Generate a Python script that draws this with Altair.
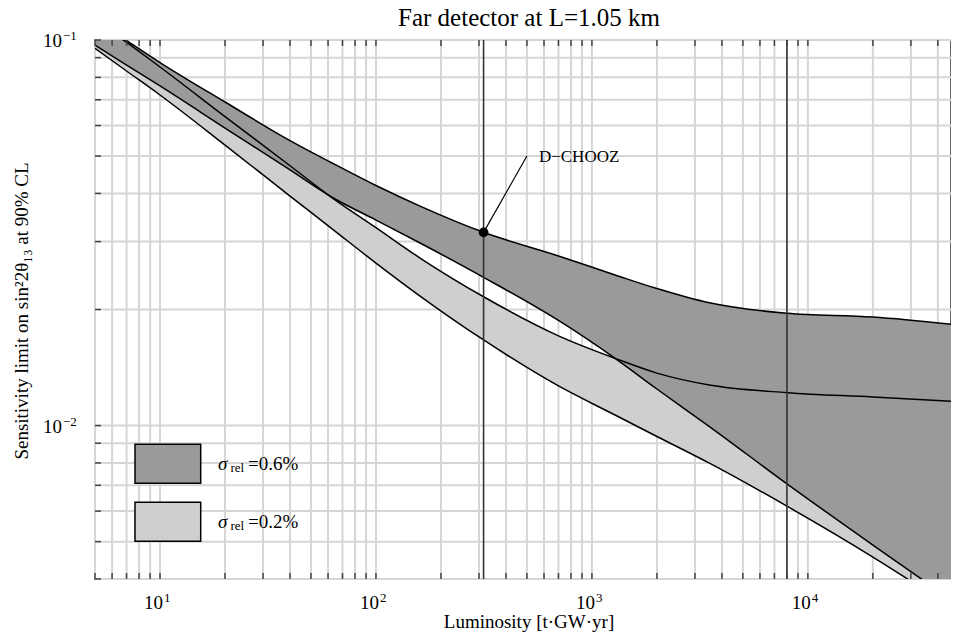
import altair as alt
import pandas as pd

# ---------------- data ----------------
lum = [5, 7, 10, 20, 40, 62, 100, 160, 315, 700, 1280, 2000, 3500, 8000, 20000, 50000]
# sigma_rel = 0.6% band (dark): upper and lower boundary
dark_upper = [0.1127, 0.0997, 0.0874, 0.06905, 0.05485, 0.04812, 0.04194, 0.03709,
              0.03171, 0.02753, 0.02458, 0.02266, 0.02081, 0.01955, 0.01912, 0.01823]
dark_lower = [0.0970, 0.0861, 0.0760, 0.05911, 0.04602, 0.03922, 0.03412, 0.02975,
              0.02424, 0.01873, 0.01494, 0.01244, 0.00994, 0.00706, 0.0049, 0.00342]
# sigma_rel = 0.2% band (light): upper and lower boundary
light_upper = [0.1118, 0.0986, 0.0851, 0.0633, 0.04719, 0.03915, 0.03261, 0.02720,
               0.02158, 0.01709, 0.01494, 0.01368, 0.01274, 0.01217, 0.01186, 0.01153]
light_lower = [0.0952, 0.0831, 0.0720, 0.05339, 0.03938, 0.03253, 0.02639, 0.02167,
               0.01667, 0.01267, 0.01065, 0.00937, 0.00799, 0.00618, 0.00456, 0.00328]

marker_lum = [315, 8000]
dchooz_lum = [315]
dchooz_val = [0.0317]
label_lum = [500]
label_val = [0.05]
label_text = ["D\u2212CHOOZ"]

x_label_vals = [10, 100, 1000, 10000]
x_label_exp = ["1", "2", "3", "4"]
y_label_vals = [0.1, 0.01]
y_label_exp = ["\u22121", "\u22122"]

legend_colors = ["#9a9a9a", "#cfcfcf"]
legend_texts = ["=0.6%", "=0.2%"]

TITLE = "Far detector at L=1.05 km"
XTITLE = "Luminosity [t\u00b7GW\u00b7yr]"
YTITLE = "Sensitivity limit on sin\u00b22\u03b8\u2081\u2083 at 90% CL"

X_MIN, X_MAX = 5, 46000
Y_MIN, Y_MAX = 0.004, 0.1

x_grid = [m * 10 ** e for e in range(0, 5) for m in range(1, 10) if X_MIN <= m * 10 ** e <= X_MAX]
y_grid = [round(m * 10.0 ** e, 6) for e in (-3, -2, -1) for m in range(1, 10)
          if Y_MIN <= round(m * 10.0 ** e, 6) <= Y_MAX]

# ---------------- chart ----------------
W, H = 856, 539
FONT = "Liberation Serif"
XS = alt.Scale(type="log", domain=[X_MIN, X_MAX], nice=False)
YS = alt.Scale(type="log", domain=[Y_MIN, Y_MAX], nice=False)

curves = pd.DataFrame({"lum": lum, "A": dark_upper, "C": dark_lower,
                       "B": light_upper, "D": light_lower})
xg = pd.DataFrame({"v": x_grid})
yg = pd.DataFrame({"v": y_grid})
one = pd.DataFrame({"k": [0]})

def X(f):
    return alt.X(f, scale=XS, axis=None)

def Y(f):
    return alt.Y(f, scale=YS, axis=None)

grid_x = alt.Chart(xg).mark_rule(color="#d6d6d6", strokeWidth=2).encode(x=X("v:Q"))
grid_y = alt.Chart(yg).mark_rule(color="#d6d6d6", strokeWidth=2).encode(y=Y("v:Q"))

light = alt.Chart(curves).mark_area(color="#cfcfcf", opacity=1, interpolate="monotone", clip=True).encode(
    x=X("lum:Q"), y=Y("D:Q"), y2="B:Q")
dark = alt.Chart(curves).mark_area(color="#9a9a9a", opacity=1, interpolate="monotone", clip=True).encode(
    x=X("lum:Q"), y=Y("C:Q"), y2="A:Q")
lines = alt.Chart(curves).transform_fold(["A", "B", "C", "D"], as_=["curve", "val"]).mark_line(
    color="black", strokeWidth=1.5, interpolate="monotone", clip=True).encode(
    x=X("lum:Q"), y=Y("val:Q"), detail="curve:N")

vlines = alt.Chart(pd.DataFrame({"lum": marker_lum})).mark_rule(color="#333333", strokeWidth=1.6).encode(
    x=X("lum:Q"))

tick_col = "#444444"
ticks_b = alt.Chart(xg).mark_rule(color=tick_col, strokeWidth=1.5).encode(
    x=X("v:Q"), y=alt.value(H), y2=alt.value(H - 6))
ticks_t = alt.Chart(xg).mark_rule(color=tick_col, strokeWidth=1.5).encode(
    x=X("v:Q"), y=alt.value(0), y2=alt.value(6))
ticks_l = alt.Chart(yg).mark_rule(color=tick_col, strokeWidth=1.5).encode(
    y=Y("v:Q"), x=alt.value(0), x2=alt.value(6))

ann = pd.DataFrame({"x": dchooz_lum, "y": dchooz_val, "x2": label_lum, "y2": label_val, "t": label_text})
ann_rule = alt.Chart(ann).mark_rule(color="black", strokeWidth=1.2).encode(
    x=X("x:Q"), y=Y("y:Q"), x2="x2:Q", y2="y2:Q")
ann_dot = alt.Chart(ann).mark_circle(color="black", opacity=1, size=95).encode(x=X("x:Q"), y=Y("y:Q"))
ann_text = alt.Chart(ann).mark_text(font=FONT, fontSize=17, align="left", baseline="alphabetic",
                                    dx=12, dy=6, color="black").encode(
    x=X("x2:Q"), y=Y("y2:Q"), text="t:N")

xl = pd.DataFrame({"v": x_label_vals, "e": x_label_exp})
xl_base = alt.Chart(xl).mark_text(font=FONT, fontSize=19, align="right", baseline="alphabetic", dx=3).encode(
    x=X("v:Q"), y=alt.value(569), text=alt.value("10"))
xl_exp = alt.Chart(xl).mark_text(font=FONT, fontSize=13, align="left", baseline="alphabetic", dx=4).encode(
    x=X("v:Q"), y=alt.value(562), text="e:N")

yl = pd.DataFrame({"v": y_label_vals, "e": y_label_exp})
yl_base = alt.Chart(yl).mark_text(font=FONT, fontSize=19, align="right", baseline="alphabetic", dy=7).encode(
    y=Y("v:Q"), x=alt.value(-33), text=alt.value("10"))
yl_exp = alt.Chart(yl).mark_text(font=FONT, fontSize=13, align="left", baseline="alphabetic", dy=0).encode(
    y=Y("v:Q"), x=alt.value(-32), text="e:N")

title = alt.Chart(pd.DataFrame({"t": [TITLE]})).mark_text(
    font=FONT, fontSize=25, align="center", baseline="alphabetic").encode(
    x=alt.value(434), y=alt.value(-14), text="t:N")
xtitle = alt.Chart(pd.DataFrame({"t": [XTITLE]})).mark_text(
    font=FONT, fontSize=19, align="center", baseline="alphabetic").encode(
    x=alt.value(434), y=alt.value(588), text="t:N")
ytitle = alt.Chart(pd.DataFrame({"t": [YTITLE]})).mark_text(
    font=FONT, fontSize=19, align="center", baseline="middle", angle=270).encode(
    x=alt.value(-73), y=alt.value(271), text="t:N")

legend_layers = []
for i, (col, txt) in enumerate(zip(legend_colors, legend_texts)):
    off = i * 58
    legend_layers.append(alt.Chart(one).mark_rect(color=col, stroke="black", strokeWidth=1.5, opacity=1).encode(
        x=alt.value(40), x2=alt.value(105.7), y=alt.value(404.3 + off), y2=alt.value(443.3 + off)))
    legend_layers.append(alt.Chart(one).mark_text(font=FONT, fontSize=19, fontStyle="italic", align="left",
                                                  baseline="alphabetic").encode(
        x=alt.value(123), y=alt.value(430 + off), text=alt.value("\u03c3")))
    legend_layers.append(alt.Chart(one).mark_text(font=FONT, fontSize=13, align="left",
                                                  baseline="alphabetic").encode(
        x=alt.value(135.5), y=alt.value(432 + off), text=alt.value("rel")))
    legend_layers.append(alt.Chart(one).mark_text(font=FONT, fontSize=19, align="left",
                                                  baseline="alphabetic").encode(
        x=alt.value(153), y=alt.value(430 + off), text=alt.value(txt)))

chart = alt.layer(
    grid_x, grid_y, light, dark, lines, vlines, ticks_b, ticks_t, ticks_l,
    ann_rule, ann_dot, ann_text, xl_base, xl_exp, yl_base, yl_exp, title, xtitle, ytitle,
    *legend_layers
).properties(
    width=W, height=H,
    padding={"left": 87, "top": 32, "right": 0, "bottom": 61},
    autosize=alt.AutoSizeParams(type="none"),
    background="white",
).configure_view(stroke="#333333", strokeWidth=1.5)

chart.save("out.html", embed_options={"renderer": "svg", "actions": False})
